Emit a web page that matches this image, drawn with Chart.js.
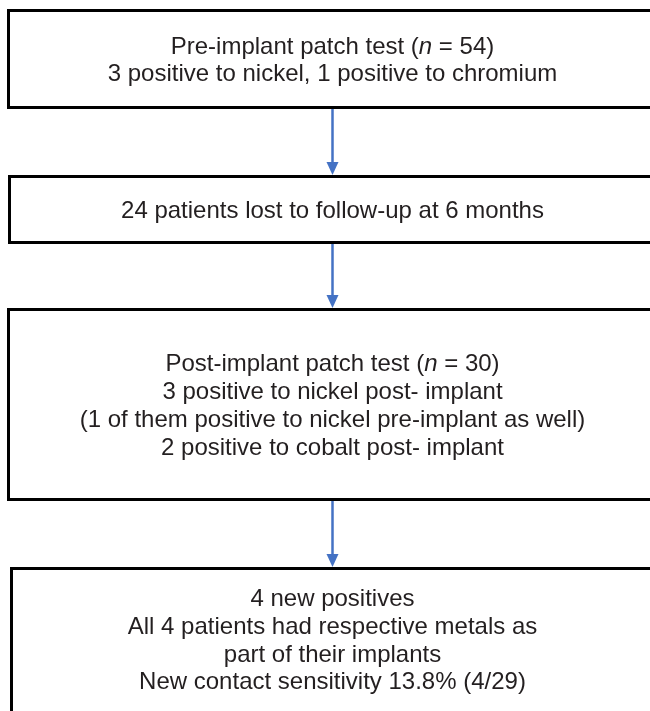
<!DOCTYPE html>
<html>
<head>
<meta charset="utf-8">
<script src="https://cdn.jsdelivr.net/npm/chart.js@4"></script>
<style>
    body { margin: 0; background: #fff; }
    canvas { display: block; }
</style>
</head>
<body>
<canvas id="flowChart" width="650" height="711"></canvas>
<script>
// text of each stage, *x* = italic
const preImplant = ['Pre-implant patch test (*n* = 54)', '3 positive to nickel, 1 positive to chromium'];
const lostFollowUp = ['24 patients lost to follow-up at 6 months'];
const postImplant = [
    'Post-implant patch test (*n* = 30)',
    '3 positive to nickel post- implant',
    '(1 of them positive to nickel pre-implant as well)',
    '2 positive to cobalt post- implant'
];
const newPositives = [
    '4 new positives',
    'All 4 patients had respective metals as',
    'part of their implants',
    'New contact sensitivity 13.8% (4/29)'
];
const stages = [preImplant, lostFollowUp, postImplant, newPositives];

// box layout in chart units (x 0..650, y 0..711 top-down)
const boxTop = [10.5, 176.5, 309.5, 568.5];
const boxBottom = [107.5, 242.5, 499.5, 714];
const boxLeft = [8.5, 9.5, 8.5, 11.5];
const boxRight = 662;
const arrowX = 332.5;

const FONT = '"Liberation Sans", Arial, sans-serif';
const FONT_SIZE = 24;
const LINE_H = 27.8;

function drawRich(ctx, line, cx, y) {
    const parts = line.split('*');
    const fonts = parts.map((p, i) => (i % 2 ? 'italic ' : '') + FONT_SIZE + 'px ' + FONT);
    let total = 0;
    const widths = parts.map((p, i) => {
        ctx.font = fonts[i];
        const w = ctx.measureText(p).width;
        total += w;
        return w;
    });
    let x = cx - total / 2;
    parts.forEach((p, i) => {
        ctx.font = fonts[i];
        ctx.fillText(p, x, y);
        x += widths[i];
    });
}

const flowPlugin = {
    id: 'flow',
    afterDraw(chart) {
        const ctx = chart.ctx;
        const xs = chart.scales.x, ys = chart.scales.y;
        ctx.save();

        // boxes
        ctx.strokeStyle = '#000';
        ctx.lineWidth = 3;
        stages.forEach((lines, i) => {
            const l = xs.getPixelForValue(boxLeft[i]);
            const r = xs.getPixelForValue(boxRight);
            const t = ys.getPixelForValue(boxTop[i]);
            const b = ys.getPixelForValue(boxBottom[i]);
            ctx.strokeRect(l, t, r - l, b - t);
        });

        // arrows
        ctx.strokeStyle = '#4472C4';
        ctx.fillStyle = '#4472C4';
        ctx.lineWidth = 2.5;
        for (let i = 0; i < stages.length - 1; i++) {
            const x = xs.getPixelForValue(arrowX);
            const y0 = ys.getPixelForValue(boxBottom[i]) + 1.5;
            const y1 = ys.getPixelForValue(boxTop[i + 1]) - 1.5;
            ctx.beginPath();
            ctx.moveTo(x, y0);
            ctx.lineTo(x, y1 - 10);
            ctx.stroke();
            ctx.beginPath();
            ctx.moveTo(x - 6, y1 - 13);
            ctx.lineTo(x + 6, y1 - 13);
            ctx.lineTo(x, y1);
            ctx.closePath();
            ctx.fill();
        }

        // text
        ctx.fillStyle = '#231F20';
        ctx.textBaseline = 'alphabetic';
        ctx.textAlign = 'left';
        stages.forEach((lines, i) => {
            const cx = xs.getPixelForValue(arrowX);
            const bottom = i === stages.length - 1 ? 710 : boxBottom[i];
            const mid = ys.getPixelForValue((boxTop[i] + bottom) / 2);
            let y = mid - (lines.length - 1) * LINE_H / 2 + 8.5;
            lines.forEach(line => {
                drawRich(ctx, line, cx, y);
                y += LINE_H;
            });
        });
        ctx.restore();
    }
};

new Chart(document.getElementById('flowChart'), {
    type: 'scatter',
    data: { datasets: [] },
    options: {
        responsive: false,
        animation: false,
        devicePixelRatio: 1,
        layout: { padding: 0 },
        plugins: { legend: { display: false }, tooltip: { enabled: false } },
        scales: {
            x: { type: 'linear', min: 0, max: 650, display: false },
            y: { type: 'linear', min: 0, max: 711, reverse: true, display: false }
        }
    },
    plugins: [flowPlugin]
});
</script>
</body>
</html>
